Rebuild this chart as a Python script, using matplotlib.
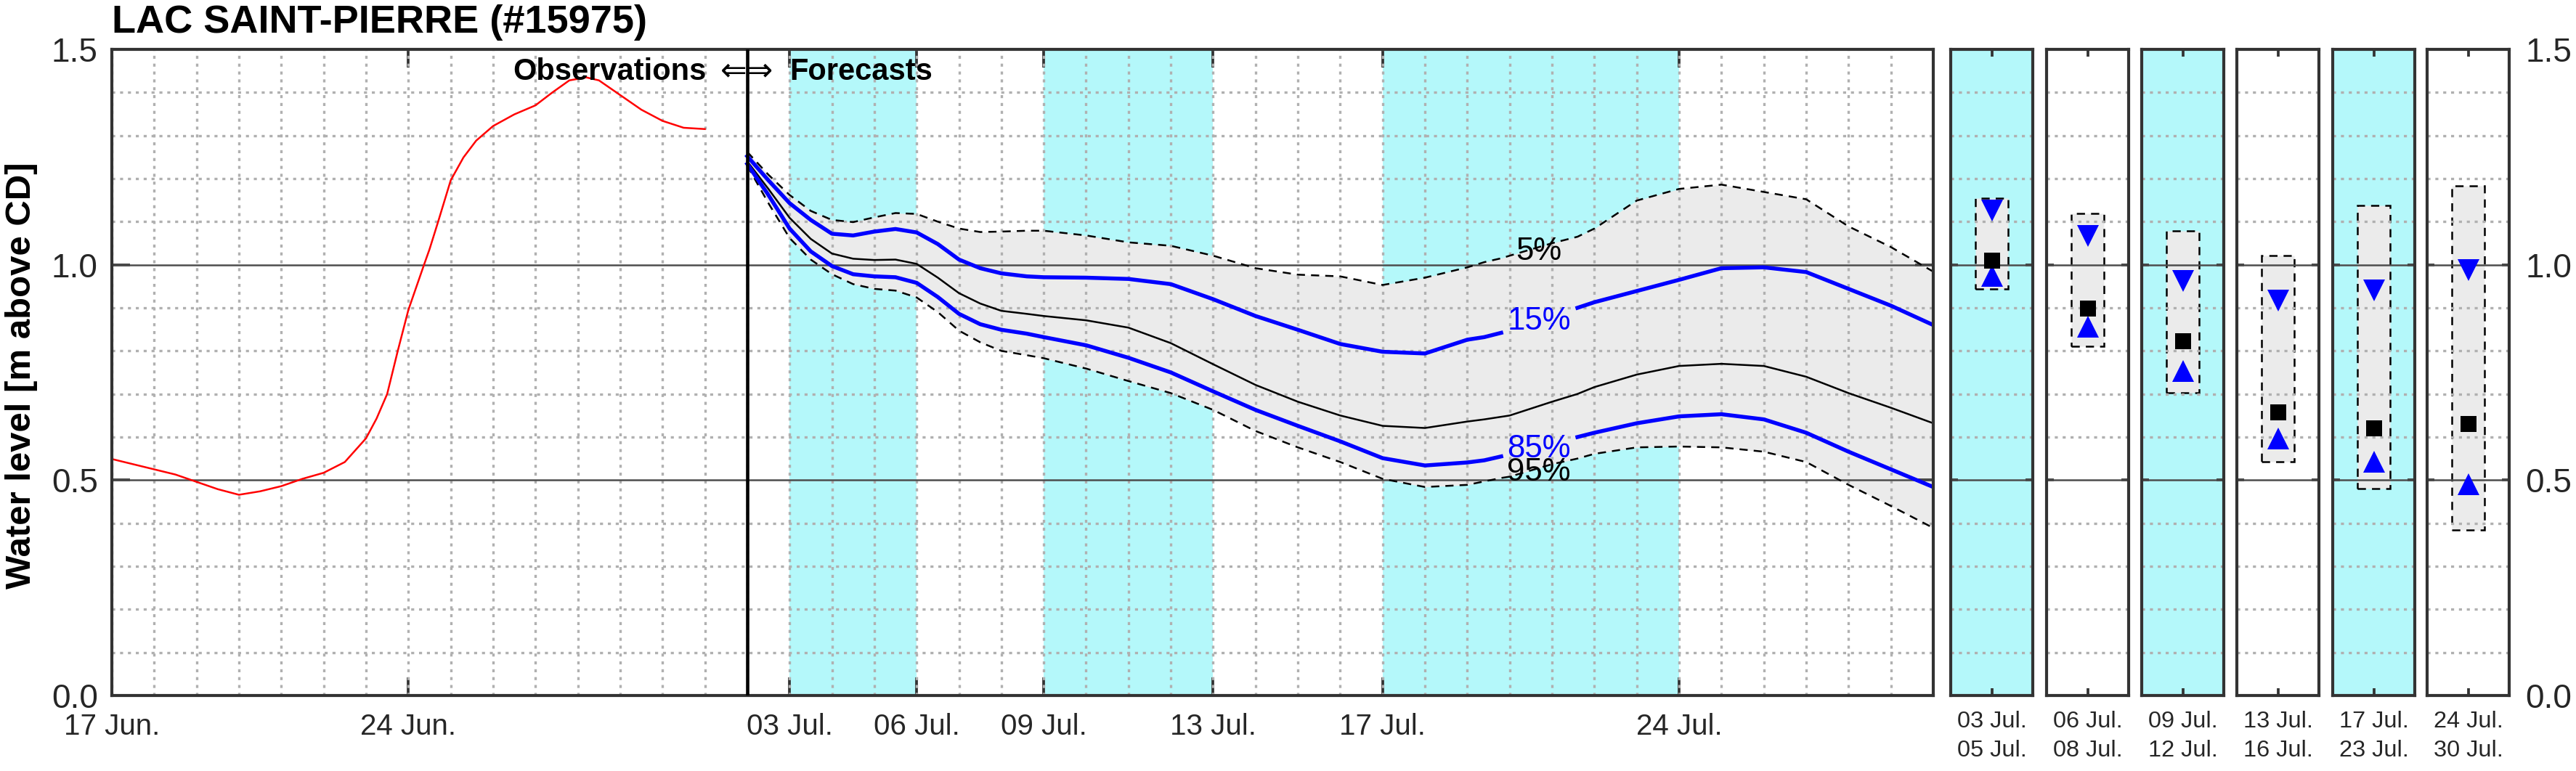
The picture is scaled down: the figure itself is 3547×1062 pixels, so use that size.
import numpy as np
import pandas as pd
import matplotlib
matplotlib.use("Agg")
import matplotlib.pyplot as plt
import matplotlib.dates as mdates
from matplotlib.ticker import MultipleLocator, FormatStrFormatter, FixedLocator

plt.rcParams['font.family'] = ['Liberation Sans', 'DejaVu Sans']
plt.rcParams['lines.scale_dashes'] = False

# ---------------- data ----------------
START = "2021-06-17"
title = "LAC SAINT-PIERRE (#15975)"
ylabel = "Water level [m above CD]"

obs_days = [0, 0.5, 1, 1.5, 2, 2.5, 3, 3.5, 4, 4.5, 5, 5.5, 6, 6.25, 6.5, 6.75, 7, 7.37, 7.5, 7.7,
            8, 8.3, 8.6, 9, 9.5, 10, 10.4, 10.8, 11.2, 11.5, 12, 12.5, 13, 13.5, 14]
obs_level = [0.549, 0.537, 0.525, 0.513, 0.496, 0.479, 0.466, 0.474, 0.486, 0.503, 0.517, 0.542,
             0.597, 0.643, 0.700, 0.800, 0.895, 1.000, 1.036, 1.099, 1.196, 1.249, 1.288, 1.322,
             1.349, 1.370, 1.400, 1.428, 1.435, 1.428, 1.394, 1.360, 1.334, 1.318, 1.315]

fc_days = [15, 15.5, 16, 16.5, 17, 17.5, 18, 18.5, 19, 19.5,
           20, 20.5, 21, 21.6, 22,
           23, 24, 25, 26, 27, 28, 29, 30, 31, 32,
           32.4, 32.8, 33, 34, 34.6,
           35, 36, 37, 38, 39, 40, 41, 42, 43]
fc_p5 = [1.262, 1.209, 1.162, 1.125, 1.104, 1.099, 1.110, 1.120, 1.118, 1.100,
         1.084, 1.076, 1.077, 1.079, 1.079,
         1.068, 1.052, 1.044, 1.021, 0.992, 0.977, 0.973, 0.953, 0.970, 0.994,
         1.006, 1.015, 1.021, 1.050, 1.065,
         1.084, 1.149, 1.176, 1.186, 1.169, 1.152, 1.089, 1.041, 0.984]
fc_p15 = [1.252, 1.196, 1.143, 1.104, 1.072, 1.068, 1.077, 1.083, 1.075, 1.048,
          1.012, 0.992, 0.980, 0.973, 0.971,
          0.970, 0.967, 0.955, 0.920, 0.881, 0.849, 0.816, 0.798, 0.794, 0.826,
          0.832, 0.842, 0.850, 0.880, 0.900,
          0.913, 0.939, 0.965, 0.992, 0.994, 0.983, 0.944, 0.905, 0.860]
fc_p50 = [1.240, 1.176, 1.109, 1.060, 1.026, 1.014, 1.011, 1.012, 1.002, 0.970,
          0.934, 0.910, 0.893, 0.886, 0.881,
          0.871, 0.854, 0.818, 0.769, 0.721, 0.682, 0.650, 0.626, 0.621, 0.636,
          0.641, 0.647, 0.650, 0.682, 0.700,
          0.716, 0.745, 0.765, 0.770, 0.765, 0.740, 0.702, 0.668, 0.632]
fc_p85 = [1.234, 1.162, 1.084, 1.031, 0.997, 0.978, 0.973, 0.971, 0.958, 0.925,
          0.886, 0.862, 0.849, 0.840, 0.832,
          0.813, 0.784, 0.750, 0.706, 0.663, 0.626, 0.590, 0.551, 0.534, 0.541,
          0.546, 0.555, 0.565, 0.588, 0.600,
          0.610, 0.632, 0.648, 0.653, 0.641, 0.610, 0.566, 0.525, 0.484]
fc_p95 = [1.230, 1.143, 1.062, 1.012, 0.978, 0.955, 0.944, 0.940, 0.924, 0.890,
          0.847, 0.820, 0.800, 0.790, 0.783,
          0.759, 0.730, 0.702, 0.663, 0.614, 0.576, 0.542, 0.503, 0.484, 0.489,
          0.497, 0.505, 0.508, 0.537, 0.550,
          0.561, 0.576, 0.578, 0.576, 0.566, 0.542, 0.489, 0.440, 0.389]

tick_dates = ["2021-06-17", "2021-06-24", "2021-07-03", "2021-07-06",
              "2021-07-09", "2021-07-13", "2021-07-17", "2021-07-24"]
tick_labels = ["17 Jun.", "24 Jun.", "03 Jul.", "06 Jul.", "09 Jul.", "13 Jul.", "17 Jul.", "24 Jul."]
shade_start = ["2021-07-03", "2021-07-09", "2021-07-17"]
shade_end = ["2021-07-06", "2021-07-13", "2021-07-24"]
forecast_start = "2021-07-02"
x_end = "2021-07-30"
ref_levels = [0.5, 1.0]
y_ticks = [0.0, 0.5, 1.0, 1.5]

panel_labels = ["03 Jul.\n05 Jul.", "06 Jul.\n08 Jul.", "09 Jul.\n12 Jul.",
                "13 Jul.\n16 Jul.", "17 Jul.\n23 Jul.", "24 Jul.\n30 Jul."]
panel_shaded = [True, False, True, False, True, False]
panel_p5 = [1.155, 1.119, 1.079, 1.022, 1.137, 1.183]
panel_p15 = [1.126, 1.067, 0.963, 0.917, 0.940, 0.987]
panel_p50 = [1.009, 0.898, 0.822, 0.658, 0.620, 0.631]
panel_p85 = [0.974, 0.856, 0.753, 0.597, 0.543, 0.490]
panel_p95 = [0.943, 0.810, 0.703, 0.543, 0.480, 0.384]

# ---------------- style ----------------
W, H, DPI = 3547, 1062, 300
CYAN = '#b4f8fa'
BAND = '#ebebeb'
SPINE = '#333333'
TICKLAB = '#262626'
GRID = '#b0b0b0'

t0 = pd.Timestamp(START)
def to_dt(days):
    return t0 + pd.to_timedelta(np.asarray(days, dtype=float), unit='D')

fig = plt.figure(figsize=(W / DPI, H / DPI), dpi=DPI)
ax_bottom = 1 - 958 / H
ax_height = (958 - 68) / H
ax = fig.add_axes([154 / W, ax_bottom, (2662 - 154) / W, ax_height])
ax.set_axisbelow(True)

for s, e in zip(shade_start, shade_end):
    ax.axvspan(pd.Timestamp(s), pd.Timestamp(e), color=CYAN, lw=0, zorder=0.2)

fx = to_dt(fc_days)
ax.fill_between(fx, fc_p95, fc_p5, color=BAND, lw=0, zorder=0.3)

for v in ref_levels:
    ax.axhline(v, color='#4d4d4d', lw=0.6, zorder=0.6)

# label positions on the quantile curves
LABEL_DAY = 33.69
GAP_HALF = 0.85
fd = np.asarray(fc_days)
gap = np.abs(fd - LABEL_DAY) < GAP_HALF

ax.plot(to_dt(obs_days), obs_level, color='red', lw=0.6, zorder=2)
ax.plot(fx, fc_p5, color='k', lw=0.6, dashes=(2.7, 2.0), zorder=2)
ax.plot(fx, fc_p95, color='k', lw=0.6, dashes=(2.7, 2.0), zorder=2)
ax.plot(fx, fc_p50, color='k', lw=0.6, zorder=2)
p15 = np.where(gap, np.nan, fc_p15)
p85 = np.where(gap, np.nan, fc_p85)
ax.plot(fx, p15, color='#0000ff', lw=1.3, zorder=2.2)
ax.plot(fx, p85, color='#0000ff', lw=1.3, zorder=2.2)

lx = t0 + pd.Timedelta(days=LABEL_DAY)
ax.text(lx, 1.03, '5%', ha='center', va='center', fontsize=10.5, color='k', zorder=4)
ax.text(lx, 0.868, '15%', ha='center', va='center', fontsize=10.5, color='#0000ff', zorder=4)
ax.text(lx, 0.573, '85%', ha='center', va='center', fontsize=10.5, color='#0000ff', zorder=4)
ax.text(lx, 0.519, '95%', ha='center', va='center', fontsize=10.5, color='k', zorder=4)

fs = pd.Timestamp(forecast_start)
ax.axvline(fs, color='k', lw=1.1, zorder=3)
ax.text(fs - pd.Timedelta(days=0.97), 1.429, 'Observations', ha='right', va='baseline',
        fontsize=10, fontweight='bold', zorder=4)
ax.text(fs, 1.429, '\u21d0\u21d2', ha='center', va='baseline', fontsize=10.5,
        family=['DejaVu Sans'], zorder=4)
ax.text(fs + pd.Timedelta(days=1.0), 1.429, 'Forecasts', ha='left', va='baseline',
        fontsize=10, fontweight='bold', zorder=4)

ax.set_xlim(t0, pd.Timestamp(x_end))
ax.set_ylim(0, 1.5)
ax.xaxis.set_major_locator(FixedLocator(mdates.date2num(pd.to_datetime(tick_dates))))
ax.set_xticklabels(tick_labels)
ax.xaxis.set_minor_locator(mdates.DayLocator())
ax.xaxis.remove_overlapping_locs = False
ax.set_yticks(y_ticks)
ax.yaxis.set_major_formatter(FormatStrFormatter('%.1f'))
ax.yaxis.set_minor_locator(MultipleLocator(0.1))
ax.grid(which='minor', color=GRID, ls=(0, (1, 1.6)), lw=0.8)
ax.grid(which='major', visible=False)
ax.tick_params(which='major', direction='in', length=6, width=0.9, color=SPINE,
               top=True, right=True, labelcolor=TICKLAB)
ax.tick_params(which='minor', length=0)
ax.tick_params(axis='x', labelsize=9.7, pad=5.8)
ax.tick_params(axis='y', labelsize=11, pad=4.6)
for sp in ax.spines.values():
    sp.set_color(SPINE)
    sp.set_linewidth(1.0)

fig.text(154 / W, 1 - 45 / H, title, ha='left', va='baseline', fontsize=13, fontweight='bold')
fig.text(30 / W, 1 - 517 / H, ylabel, rotation=90, ha='center', va='center',
         fontsize=11.8, fontweight='bold')

# ---------------- summary panels ----------------
panel_left = [2686, 2818, 2949, 3080, 3212, 3342]
for i in range(len(panel_labels)):
    pax = fig.add_axes([panel_left[i] / W, ax_bottom, 113 / W, ax_height])
    pax.set_axisbelow(True)
    pax.set_facecolor(CYAN if panel_shaded[i] else 'white')
    pax.set_xlim(0, 1)
    pax.set_ylim(0, 1.5)
    pax.bar(0.5, panel_p5[i] - panel_p95[i], bottom=panel_p95[i], width=0.4,
            color=BAND, edgecolor='k', lw=0.6, linestyle=(0, (2.7, 2.0)), zorder=0.3)
    for v in ref_levels:
        pax.axhline(v, color='#4d4d4d', lw=0.6, zorder=0.6)
    pax.plot(0.5, panel_p15[i], 'v', color='#0000ff', ms=7.4, mew=0, zorder=3)
    pax.plot(0.5, panel_p85[i], '^', color='#0000ff', ms=7.4, mew=0, zorder=3)
    pax.plot(0.5, panel_p50[i], 's', color='k', ms=5.3, mew=0, zorder=3)
    pax.set_xticks([0.5])
    pax.set_xticklabels([panel_labels[i]])
    for t in pax.get_xticklabels():
        t.set_linespacing(1.45)
    pax.set_yticks(y_ticks)
    pax.yaxis.set_major_formatter(FormatStrFormatter('%.1f'))
    pax.yaxis.set_minor_locator(MultipleLocator(0.1))
    pax.grid(which='minor', axis='y', color=GRID, ls=(0, (1, 1.6)), lw=0.8)
    pax.grid(which='major', visible=False)
    pax.tick_params(which='major', direction='in', length=2.4, width=0.9, color=SPINE,
                    top=True, right=True, labelcolor=TICKLAB)
    pax.tick_params(which='minor', length=0)
    pax.tick_params(axis='x', labelsize=7.8, pad=5.0)
    if i == len(panel_labels) - 1:
        pax.tick_params(axis='y', labelleft=False, labelright=True, labelsize=11, pad=5.3)
    else:
        pax.tick_params(axis='y', labelleft=False)
    for sp in pax.spines.values():
        sp.set_color(SPINE)
        sp.set_linewidth(1.0)

fig.savefig('out.png', dpi=DPI)
